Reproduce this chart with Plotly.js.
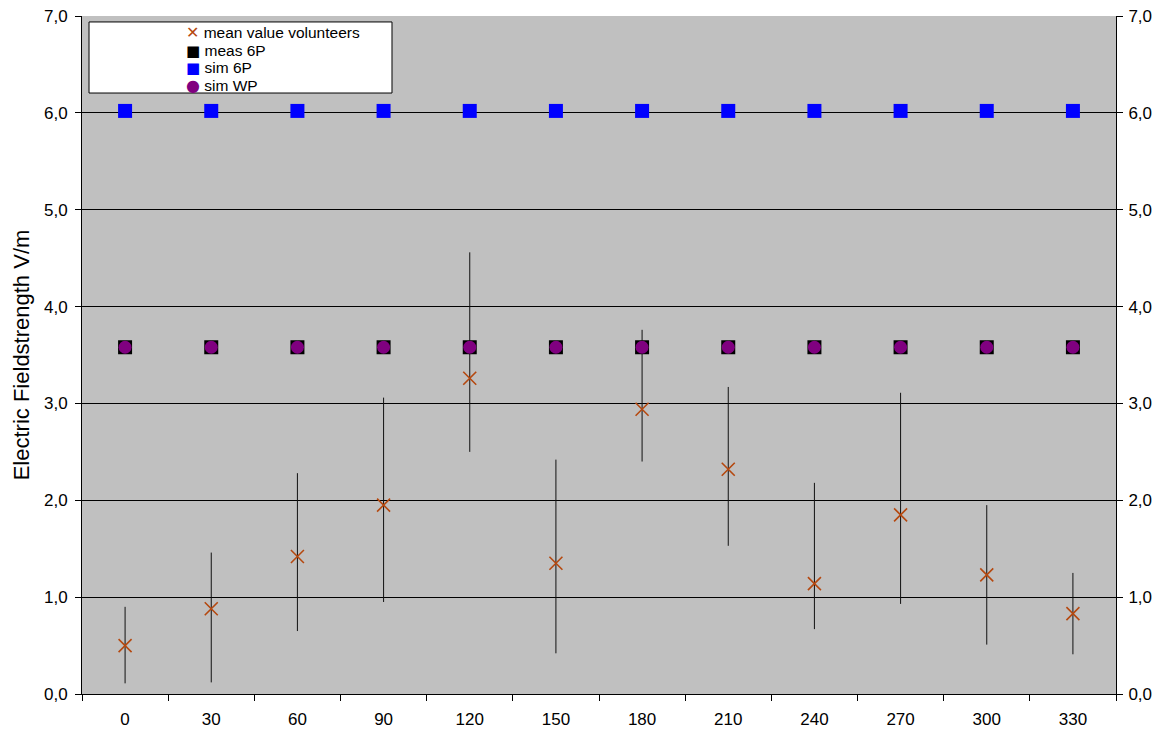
<!DOCTYPE html>
<html>
<head>
<meta charset="utf-8">
<script src="https://cdn.plot.ly/plotly-3.0.1.min.js"></script>
<style>html,body{margin:0;padding:0;background:#fff;}#chart{width:1164px;height:734px;}</style>
</head>
<body>
<div id="chart"></div>
<script>
const angles = ["0","30","60","90","120","150","180","210","240","270","300","330"];
const meanVolunteers = [0.50, 0.88, 1.42, 1.95, 3.26, 1.35, 2.94, 2.32, 1.14, 1.85, 1.23, 0.83];
const errTop = [0.90, 1.46, 2.28, 3.06, 4.56, 2.42, 3.76, 3.17, 2.18, 3.11, 1.95, 1.25];
const errBottom = [0.11, 0.12, 0.65, 0.95, 2.50, 0.42, 2.40, 1.53, 0.67, 0.93, 0.51, 0.41];
const meas6P = [3.58, 3.58, 3.58, 3.58, 3.58, 3.58, 3.58, 3.58, 3.58, 3.58, 3.58, 3.58];
const sim6P = [6.02, 6.02, 6.02, 6.02, 6.02, 6.02, 6.02, 6.02, 6.02, 6.02, 6.02, 6.02];
const simWP = [3.58, 3.58, 3.58, 3.58, 3.58, 3.58, 3.58, 3.58, 3.58, 3.58, 3.58, 3.58];
const yTicks = [0,1,2,3,4,5,6,7];
const seriesNames = ["mean value volunteers", "meas 6P", "sim 6P", "sim WP"];
const seriesColors = ["#B5480F", "#000000", "#0000FF", "#800080"];
const legendGlyphs = ["\u2715", "\u25A0", "\u25A0", "\u25CF"];

const errPlus = errTop.map((t,i)=>t-meanVolunteers[i]);
const errMinus = errBottom.map((b,i)=>meanVolunteers[i]-b);

const font = {family: "Liberation Sans, Arial, sans-serif", color: "#000"};
const f = s => Object.assign({size: s}, font);

const traces = [
  {x: angles, y: meanVolunteers, type: "scatter", mode: "markers", name: seriesNames[0],
   marker: {symbol: "x-thin-open", size: 13, color: seriesColors[0], line: {width: 1.6, color: seriesColors[0]}},
   error_y: {type: "data", symmetric: false, array: errPlus, arrayminus: errMinus, color: "#111", thickness: 1, width: 0}},
  {x: angles, y: meas6P, type: "scatter", mode: "markers", name: seriesNames[1],
   marker: {symbol: "square", size: 14, color: seriesColors[1]}},
  {x: angles, y: sim6P, type: "scatter", mode: "markers", name: seriesNames[2],
   marker: {symbol: "square", size: 14, color: seriesColors[2]}},
  {x: angles, y: simWP, type: "scatter", mode: "markers", name: seriesNames[3],
   marker: {symbol: "circle", size: 13, color: seriesColors[3]}},
  {x: angles, y: simWP, type: "scatter", mode: "markers", yaxis: "y2", showlegend: false,
   hoverinfo: "skip", marker: {size: 1, opacity: 0}}
];

// compact Excel-style legend: one multi-line text block inside a white box
const glyphSizes = [16, 15, 15, 16];
const legendText = seriesNames.map((n, i) =>
  "<span style=\"font-family:DejaVu Sans;font-size:" + glyphSizes[i] + "px;color:" + seriesColors[i] + "\">" +
  legendGlyphs[i] + "</span><span style=\"font-size:15.5px\"> " + n + "</span>"
).join("<br>");

const layout = {
  width: 1164, height: 734,
  margin: {l: 82, r: 48, t: 16, b: 40},
  paper_bgcolor: "#fff",
  plot_bgcolor: "#C0C0C0",
  separators: ",.",
  font: f(17),
  showlegend: false,
  xaxis: {
    type: "category", tickson: "boundaries", ticks: "outside", ticklen: 6, tickcolor: "#000",
    showline: true, linecolor: "#000", linewidth: 1, showgrid: false, zeroline: false,
    tickfont: f(17), range: [-0.5, 11.5], ticklabelstandoff: 10
  },
  yaxis: {
    range: [0, 7], tickvals: yTicks, tickformat: ".1f", ticks: "outside", ticklen: 6, tickcolor: "#000",
    showline: true, linecolor: "#000", linewidth: 1, showgrid: true, gridcolor: "#000", gridwidth: 1,
    zeroline: false, tickfont: f(17), ticklabelstandoff: 4,
    title: {text: "Electric Fieldstrength V/m", font: f(22), standoff: 8}
  },
  yaxis2: {
    overlaying: "y", side: "right", range: [0, 7], tickvals: yTicks, tickformat: ".1f",
    ticks: "outside", ticklen: 6, tickcolor: "#000", showline: true, linecolor: "#000", linewidth: 1,
    showgrid: false, zeroline: false, tickfont: f(17), ticklabelstandoff: 2
  },
  shapes: [{
    type: "rect", xref: "paper", yref: "paper",
    x0: 0.0068, x1: 0.2998, y0: 0.8864, y1: 0.9912,
    fillcolor: "#fff", line: {color: "#000", width: 1}, layer: "above"
  }],
  annotations: [{
    xref: "paper", yref: "paper", x: 0.0990, y: 0.9360, xanchor: "left", yanchor: "middle",
    align: "left", showarrow: false, text: legendText,
    font: {family: font.family, size: 13.6, color: "#000"}
  }]
};

Plotly.newPlot("chart", traces, layout, {displayModeBar: false, staticPlot: true});
</script>
</body>
</html>
